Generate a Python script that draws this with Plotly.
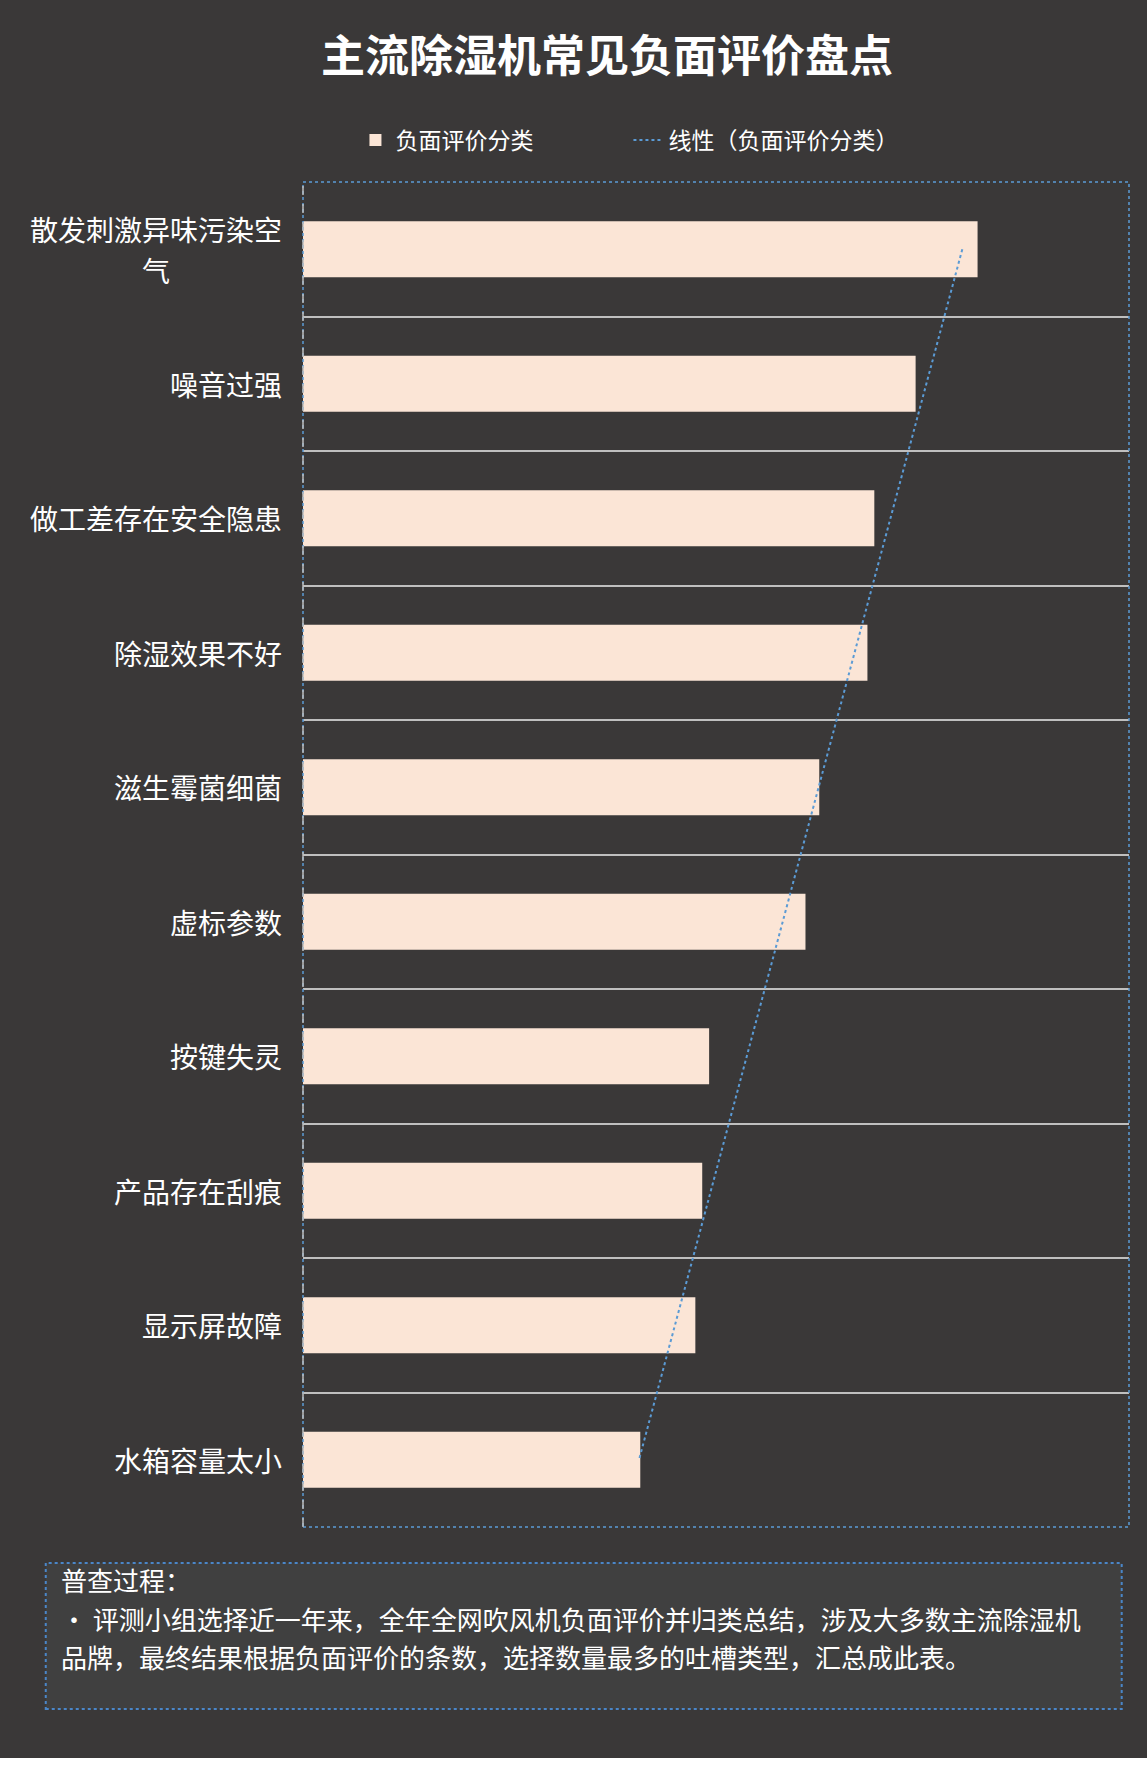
import numpy as np
import plotly.graph_objects as go

# data (top to bottom as shown)
categories = ["散发刺激异味污染空气", "噪音过强", "做工差存在安全隐患", "除湿效果不好", "滋生霉菌细菌",
              "虚标参数", "按键失灵", "产品存在刮痕", "显示屏故障", "水箱容量太小"]
category_lines = [["散发刺激异味污染空", "气"], ["噪音过强"], ["做工差存在安全隐患"], ["除湿效果不好"],
                  ["滋生霉菌细菌"], ["虚标参数"], ["按键失灵"], ["产品存在刮痕"], ["显示屏故障"], ["水箱容量太小"]]
counts = [490, 445, 415, 410, 375, 365, 295, 290, 285, 245]
bar_name = "负面评价分类"
trend_name = "线性（负面评价分类）"
note_lines = ["普查过程：",
              "• 评测小组选择近一年来，全年全网吹风机负面评价并归类总结，涉及大多数主流除湿机",
              "品牌，最终结果根据负面评价的条数，选择数量最多的吐槽类型，汇总成此表。"]

W, H = 1147, 1758
L, R, T, B = 302.5, 1129.3, 182, 1527
BG = "#3a3838"
FONT = "Noto Sans CJK SC"
LABEL_SIZE = 28
NOTE_SIZE = 26


def xp(px):
    return (px - L) / (R - L)


def yp(py):
    return (B - py) / (B - T)


# linear trendline like Excel's
idx = np.arange(1, len(counts) + 1)
slope, icpt = np.polyfit(idx, counts, 1)
trend = slope * idx + icpt

fig = go.Figure()
fig.add_trace(go.Bar(y=categories, x=counts, orientation="h", name=bar_name,
                     marker=dict(color="#fbe5d6", line=dict(width=0))))
fig.add_trace(go.Scatter(y=categories, x=trend, mode="lines", name=trend_name,
                         line=dict(color="#5b9bd5", width=2, dash="dot")))

# category labels, wrapped lines centred on each other
label_step = LABEL_SIZE * 1.47
for lines, cat in zip(category_lines, categories):
    width = max(len(s) for s in lines) * LABEL_SIZE
    for k, s in enumerate(lines):
        shift = ((len(lines) - 1) / 2 - k) * label_step
        fig.add_annotation(x=xp(281 - width / 2), xref="paper", y=cat, yref="y", yshift=shift,
                           text=s, showarrow=False, xanchor="center",
                           font=dict(family=FONT, size=LABEL_SIZE, color="white"))

# note box
fig.add_shape(type="rect", xref="paper", yref="paper", x0=xp(45), x1=xp(1122), y0=yp(1709), y1=yp(1563),
              fillcolor="#404040", line=dict(color="#4a86c8", width=2, dash="dot"), layer="below")
note_step = NOTE_SIZE * 1.47
for k, s in enumerate(note_lines):
    fig.add_annotation(x=xp(58), xref="paper", y=yp(1618), yref="paper", yshift=(1 - k) * note_step,
                       xanchor="left", yanchor="middle", showarrow=False, text=s,
                       font=dict(family=FONT, size=NOTE_SIZE, color="white"))

# plot area border
fig.add_shape(type="rect", xref="paper", yref="paper", x0=0, x1=1, y0=0, y1=1,
              line=dict(color="#5b9bd5", width=1.5, dash="dot"), layer="above")
fig.add_shape(type="line", xref="paper", yref="paper", x0=0, x1=0, y0=0, y1=1,
              line=dict(color="#bfbfbf", width=1.5, dash="dash"), layer="above")

fig.update_layout(
    width=W, height=H,
    paper_bgcolor=BG, plot_bgcolor=BG,
    margin=dict(l=L, r=W - R, t=T, b=H - B, autoexpand=False),
    bargap=0.585,
    font=dict(family=FONT, color="white"),
    title=dict(text="主流除湿机常见负面评价盘点", xref="container", x=607 / W, xanchor="center",
               yref="container", y=1 - 57 / H, yanchor="middle",
               font=dict(family=FONT, size=44, color="white", weight="bold")),
    legend=dict(orientation="h", x=xp(355), y=yp(140), xanchor="left", yanchor="middle",
                font=dict(family=FONT, size=23, color="white"), entrywidth=228,
                bgcolor="rgba(0,0,0,0)"),
    xaxis=dict(range=[0, 600], showticklabels=False, showgrid=False, zeroline=False, showline=False),
    yaxis=dict(type="category", autorange="reversed", showticklabels=False, ticks="",
               showgrid=True, gridcolor="#bfbfbf", gridwidth=1.5, tickson="boundaries",
               zeroline=False, showline=False),
)

fig.write_html("out.html", config={"displayModeBar": False},
               post_script="document.body.style.margin='0';")
